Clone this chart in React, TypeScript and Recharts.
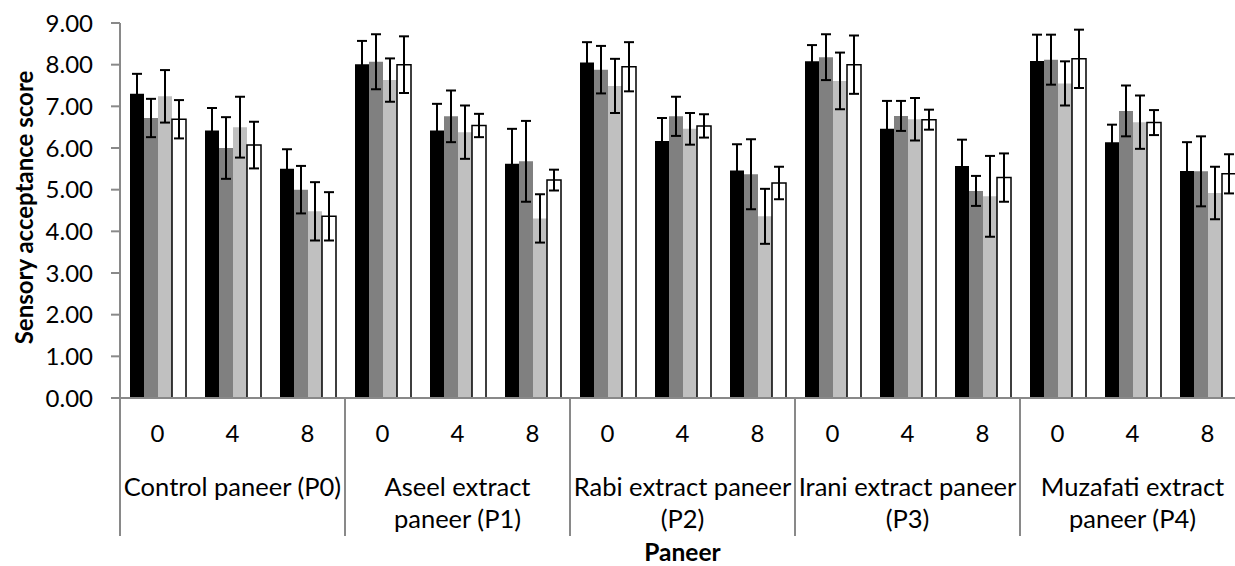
import React from 'react';
import { BarChart, Bar, XAxis, YAxis, ErrorBar, Label } from 'recharts';

const days = ['0', '4', '8'];
const groupLines = [
  ['Control paneer (P0)'],
  ['Aseel extract', 'paneer (P1)'],
  ['Rabi extract paneer', '(P2)'],
  ['Irani extract paneer', '(P3)'],
  ['Muzafati extract', 'paneer (P4)'],
];

// four bar series per storage day (black, dark grey, light grey, white)
const seriesBlack = [7.30, 6.42, 5.50, 8.01, 6.42, 5.62, 8.05, 6.17, 5.46, 8.08, 6.46, 5.57, 8.09, 6.14, 5.45];
const errBlack = [0.48, 0.54, 0.47, 0.56, 0.64, 0.84, 0.49, 0.55, 0.63, 0.39, 0.67, 0.63, 0.63, 0.42, 0.69];
const seriesDark = [6.72, 6.00, 5.00, 8.07, 6.76, 5.68, 7.88, 6.76, 5.37, 8.18, 6.77, 4.97, 8.12, 6.89, 5.44];
const errDark = [0.46, 0.74, 0.57, 0.66, 0.62, 0.97, 0.57, 0.47, 0.84, 0.55, 0.36, 0.36, 0.60, 0.61, 0.84];
const seriesLight = [7.24, 6.50, 4.48, 7.63, 6.38, 4.31, 7.49, 6.46, 4.36, 7.61, 6.69, 4.84, 7.55, 6.62, 4.92];
const errLight = [0.63, 0.73, 0.70, 0.52, 0.64, 0.58, 0.65, 0.38, 0.66, 0.68, 0.51, 0.97, 0.53, 0.64, 0.63];
const seriesWhite = [6.69, 6.07, 4.36, 8.00, 6.54, 5.23, 7.95, 6.53, 5.16, 8.00, 6.68, 5.29, 8.14, 6.61, 5.38];
const errWhite = [0.46, 0.56, 0.58, 0.68, 0.28, 0.25, 0.59, 0.28, 0.39, 0.70, 0.24, 0.58, 0.70, 0.30, 0.47];

const yTicks = [0, 1, 2, 3, 4, 5, 6, 7, 8, 9];

const FONT = 'Lato, "Open Sans", sans-serif';
const AXIS = '#898989';

const data = seriesBlack.map((_, i) => ({
  id: `g${Math.floor(i / 3)}-${days[i % 3]}`,
  group: Math.floor(i / 3),
  day: days[i % 3],
  black: seriesBlack[i],
  blackErr: errBlack[i],
  dark: seriesDark[i],
  darkErr: errDark[i],
  light: seriesLight[i],
  lightErr: errLight[i],
  white: seriesWhite[i],
  whiteErr: errWhite[i],
}));

const CategoryTick = (props: any) => {
  const { x, y, index, payload } = props;
  const row = data[index];
  if (!row) return null;
  const half = payload && payload.offset ? payload.offset : 37.5;
  const pos = index % 3;
  const lines = groupLines[row.group];
  return (
    <g>
      <text x={x} y={y + 44} textAnchor="middle" fontSize={24} fontFamily={FONT} fill="#000">
        {row.day}
      </text>
      {pos === 0 && (
        <line x1={x - half} x2={x - half} y1={y} y2={y + 138} stroke={AXIS} strokeWidth={2} />
      )}
      {index === data.length - 1 && (
        <line x1={x + half} x2={x + half} y1={y} y2={y + 138} stroke={AXIS} strokeWidth={2} />
      )}
      {pos === 1 &&
        lines.map((t, k) => (
          <text
            key={k}
            x={x}
            y={y + 98 + k * 32}
            textAnchor="middle"
            fontSize={25.5}
            fontFamily={FONT}
            fill="#000"
          >
            {t}
          </text>
        ))}
    </g>
  );
};

const App: React.FC = () => {
  return (
    <div
      style={{
        position: 'absolute',
        left: 0,
        top: 0,
        width: 1235,
        height: 566,
        overflow: 'hidden',
        background: '#fff',
      }}
    >
      <BarChart
        width={1250}
        height={566}
        data={data}
        margin={{ top: 23, right: 5, left: 0, bottom: 0 }}
        barCategoryGap={10}
        barGap={0}
      >
        <XAxis
          dataKey="id"
          height={168}
          interval={0}
          tickLine={false}
          tickSize={0}
          tickMargin={0}
          axisLine={{ stroke: AXIS, strokeWidth: 2 }}
          tick={(p: any) => <CategoryTick {...p} />}
        >
          <Label
            content={(p: any) => {
              const vb = p.viewBox;
              return (
                <text
                  x={vb.x + vb.width / 2}
                  y={vb.y + 163}
                  textAnchor="middle"
                  fontSize={24.5}
                  fontWeight={700}
                  fontFamily={FONT}
                  fill="#000"
                >
                  Paneer
                </text>
              );
            }}
          />
        </XAxis>
        <YAxis
          domain={[0, 9]}
          ticks={yTicks}
          interval={0}
          width={120}
          tickFormatter={(v: number) => v.toFixed(2)}
          tickSize={9}
          tickMargin={18}
          axisLine={{ stroke: AXIS, strokeWidth: 2 }}
          tickLine={{ stroke: AXIS, strokeWidth: 2 }}
          tick={{ fill: '#000', fontSize: 24, fontFamily: FONT }}
        >
          <Label
            content={(p: any) => {
              const vb = p.viewBox;
              const cx = vb.x + 23;
              const cy = vb.y + vb.height / 2 - 3;
              return (
                <text
                  x={cx}
                  y={cy}
                  transform={`rotate(-90 ${cx} ${cy})`}
                  textAnchor="middle"
                  dominantBaseline="central"
                  fontSize={24}
                  fontWeight={700}
                  fontFamily={FONT}
                  fill="#000"
                >
                  Sensory acceptance score
                </text>
              );
            }}
          />
        </YAxis>
        <Bar dataKey="black" fill="#000000" isAnimationActive={false}>
          <ErrorBar dataKey="blackErr" width={5} strokeWidth={2} stroke="#000" direction="y" />
        </Bar>
        <Bar dataKey="dark" fill="#808080" isAnimationActive={false}>
          <ErrorBar dataKey="darkErr" width={5} strokeWidth={2} stroke="#000" direction="y" />
        </Bar>
        <Bar dataKey="light" fill="#c0c0c0" isAnimationActive={false}>
          <ErrorBar dataKey="lightErr" width={5} strokeWidth={2} stroke="#000" direction="y" />
        </Bar>
        <Bar dataKey="white" fill="#ffffff" stroke="#000" strokeWidth={1.5} isAnimationActive={false}>
          <ErrorBar dataKey="whiteErr" width={5} strokeWidth={2} stroke="#000" direction="y" />
        </Bar>
      </BarChart>
    </div>
  );
};

export default App;
